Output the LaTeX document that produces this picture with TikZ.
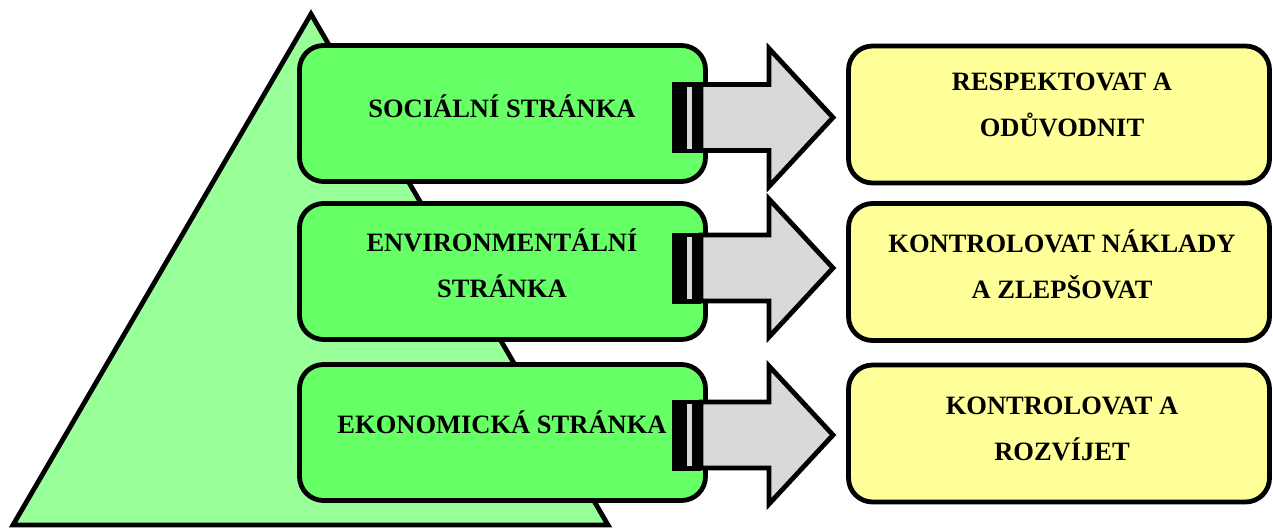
\documentclass[tikz,border=0pt]{standalone}
\usepackage{fontspec}
\setmainfont{Liberation Serif}
\definecolor{pyramidgreen}{HTML}{99FF99}
\definecolor{boxgreen}{HTML}{66FF66}
\definecolor{boxyellow}{HTML}{FFFF99}
\definecolor{arrowgray}{HTML}{D9D9D9}
\begin{document}
\begin{tikzpicture}[x=1pt,y=-1pt,
  outline/.style={draw=black, line width=4.8pt, line join=miter},
  pyramid/.style={outline, fill=pyramidgreen},
  sidebox/.style={outline, fill=boxgreen, rounded corners=24pt,
    minimum width=406pt, minimum height=136pt, inner sep=0pt},
  goalbox/.style={outline, fill=boxyellow, rounded corners=24pt,
    minimum width=421pt, minimum height=137pt, inner sep=0pt},
  label/.style={align=center, inner sep=0pt,
    font=\fontsize{26.5}{46}\selectfont\bfseries},
  shaft/.style={outline, fill=arrowgray}]
\useasboundingbox (0,0) rectangle (1273,531);

% pyramid behind the three aspects
\draw[pyramid] (311,14) -- (608,525) -- (13,525) -- cycle;

% aspect boxes
\node[sidebox] (s1) at (502.5,113.5) {};
\node[sidebox] (s2) at (502.5,271.5) {};
\node[sidebox] (s3) at (502.5,432.5) {};

% goal boxes
\node[goalbox] (g1) at (1059,114.5) {};
\node[goalbox] (g2) at (1059,272) {};
\node[goalbox] (g3) at (1059,433.5) {};

% striped block arrows from each aspect to its goal
\foreach \c in {117.5,268,435}{
  \fill[black] (671.5,\c-35.5) rectangle (701,\c+35.5);
  \fill[arrowgray] (687,\c-31) rectangle (692,\c+31);
  \draw[shaft] (701,\c-33) -- (769,\c-33) -- (769,\c-69) -- (833,\c)
    -- (769,\c+69) -- (769,\c+33) -- (701,\c+33) -- cycle;
}

% texts
\node[label] (t1) at (502,106) {SOCIÁLNÍ STRÁNKA};
\node[label] (t2) at (502,263) {ENVIRONMENTÁLNÍ\\STRÁNKA};
\node[label] (t3) at (502,422) {EKONOMICKÁ STRÁNKA};
\node[label] (u1) at (1062,105) {RESPEKTOVAT A\\ODŮVODNIT};
\node[label] (u2) at (1062,264) {KONTROLOVAT NÁKLADY\\A ZLEPŠOVAT};
\node[label] (u3) at (1062,429) {KONTROLOVAT A\\ROZVÍJET};
\end{tikzpicture}
\end{document}
